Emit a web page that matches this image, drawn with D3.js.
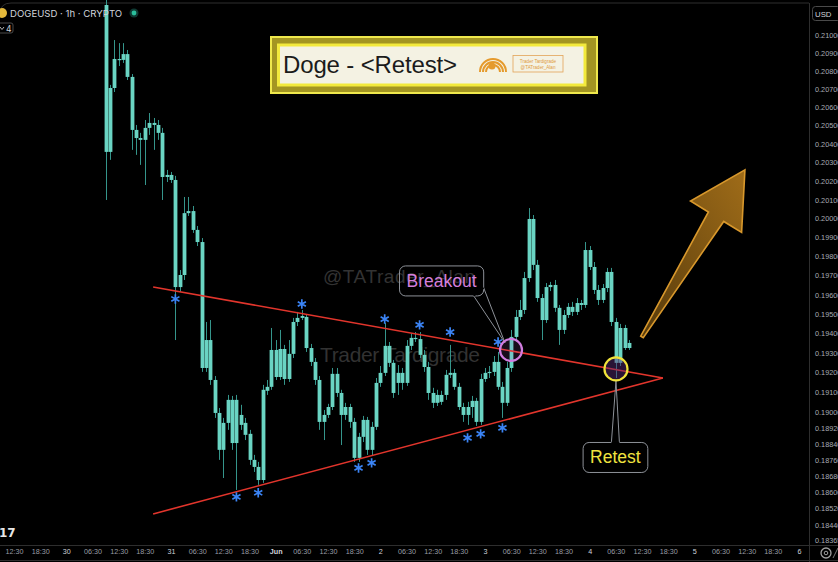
<!DOCTYPE html>
<html><head><meta charset="utf-8">
<script src="https://cdn.jsdelivr.net/npm/d3@7"></script>
<style>html,body{margin:0;padding:0;background:#000;overflow:hidden}svg{display:block}</style>
</head><body><svg id="c" width="838" height="562"></svg>
<script>
// ---------- DATA ----------
const symbolTitle = "DOGEUSD · 1h · CRYPTO";
const chartTitle = "Doge - <Retest>";
const firstCandle = "2025-05-30 09:30";   // hourly candles
const opens = [
0.21166,0.20357,0.20705,0.20865,0.20860,0.20892,0.20766,0.20476,0.20432,0.20422,
0.20487,0.20514,0.20503,0.20460,0.20222,0.20233,0.20206,0.19640,0.19703,0.20029,
0.20040,0.19940,0.19876,0.19223,0.19366,0.19162,0.18995,0.18810,0.18945,0.19061,
0.18844,0.18985,0.18945,0.18890,0.18760,0.18725,0.18660,0.19107,0.19127,0.19315,
0.19177,0.19320,0.19167,0.19295,0.19459,0.19480,0.19485,0.19325,0.19254,0.19162,
0.18950,0.18985,0.19025,0.19193,0.19096,0.18985,0.19025,0.18950,0.18770,0.18875,
0.18960,0.18810,0.18925,0.19147,0.19198,0.19336,0.19249,0.19147,0.19198,0.19147,
0.19336,0.19377,0.19371,0.19290,0.19228,0.19096,0.19046,0.19086,0.19086,0.19188,
0.19198,0.19127,0.19025,0.18985,0.19025,0.19056,0.18950,0.19167,0.19198,0.19203,
0.19254,0.19127,0.19046,0.19223,0.19382,0.19485,0.19521,0.19687,0.19998,0.19756,
0.19583,0.19469,0.19640,0.19651,0.19532,0.19418,0.19495,0.19537,0.19511,0.19557,
0.19547,0.19834,0.19745,0.19625,0.19573,0.19635,0.19719,0.19459,0.19249,0.19428,0.19325];
const highs = [
0.21194,0.20722,0.20970,0.20953,0.20953,0.20915,0.20782,0.20503,0.20460,0.20530,
0.20568,0.20541,0.20530,0.20487,0.20260,0.20249,0.20228,0.19729,0.20115,0.20115,
0.20067,0.19961,0.19897,0.19459,0.19469,0.19182,0.19020,0.18970,0.19086,0.19081,
0.19086,0.19036,0.18970,0.18910,0.18785,0.18750,0.19137,0.19162,0.19428,0.19366,
0.19418,0.19341,0.19366,0.19480,0.19511,0.19521,0.19500,0.19346,0.19274,0.19182,
0.19010,0.19041,0.19223,0.19223,0.19112,0.19046,0.19041,0.18970,0.18895,0.18980,
0.18975,0.18950,0.19172,0.19233,0.19454,0.19356,0.19264,0.19238,0.19223,0.19366,
0.19402,0.19407,0.19407,0.19315,0.19254,0.19122,0.19112,0.19107,0.19213,0.19341,
0.19218,0.19147,0.19046,0.19051,0.19081,0.19071,0.19193,0.19223,0.19233,0.19284,
0.19305,0.19152,0.19254,0.19418,0.19521,0.19573,0.19719,0.20056,0.20019,0.19782,
0.19604,0.19661,0.19667,0.19677,0.19547,0.19521,0.19557,0.19563,0.19583,0.19573,
0.19876,0.19855,0.19771,0.19651,0.19656,0.19740,0.19740,0.19480,0.19449,0.19444,0.19366];
const lows = [
0.20099,0.20314,0.20683,0.20826,0.20843,0.20749,0.20368,0.20341,0.20287,0.20179,
0.20449,0.20368,0.20422,0.20099,0.20195,0.20190,0.19366,0.19614,0.19677,0.20014,
0.19924,0.19855,0.19203,0.19203,0.19137,0.18970,0.18760,0.18670,0.18910,0.18810,
0.18611,0.18910,0.18859,0.18735,0.18700,0.18636,0.18646,0.19086,0.19112,0.19162,
0.19162,0.19137,0.19152,0.19274,0.19438,0.19469,0.19305,0.19233,0.19137,0.18910,
0.18859,0.18970,0.19010,0.19076,0.18834,0.18960,0.18920,0.18750,0.18750,0.18849,
0.18785,0.18780,0.18910,0.19127,0.19182,0.19228,0.19071,0.19086,0.19112,0.19132,
0.19315,0.19356,0.19274,0.19203,0.19061,0.19020,0.19030,0.19036,0.19061,0.19172,
0.19112,0.19010,0.18950,0.18935,0.18970,0.18930,0.18935,0.19152,0.19172,0.19182,
0.19112,0.18970,0.19030,0.19203,0.19366,0.19469,0.19500,0.19667,0.19729,0.19563,
0.19366,0.19454,0.19619,0.19511,0.19341,0.19397,0.19480,0.19490,0.19495,0.19521,
0.19532,0.19729,0.19604,0.19547,0.19557,0.19614,0.19438,0.19172,0.19233,0.19315,0.19315];
const closes = [
0.20357,0.20705,0.20865,0.20860,0.20892,0.20766,0.20476,0.20432,0.20422,0.20487,
0.20514,0.20503,0.20460,0.20222,0.20233,0.20206,0.19640,0.19703,0.20029,0.20040,
0.19940,0.19876,0.19223,0.19366,0.19162,0.18995,0.18810,0.18945,0.19061,0.18844,
0.19061,0.18935,0.18885,0.18760,0.18725,0.18660,0.19112,0.19127,0.19315,0.19177,
0.19320,0.19167,0.19295,0.19459,0.19480,0.19490,0.19325,0.19254,0.19162,0.18950,
0.18985,0.19025,0.19193,0.19096,0.18985,0.19025,0.18950,0.18770,0.18875,0.18960,
0.18810,0.18925,0.19147,0.19198,0.19336,0.19249,0.19096,0.19198,0.19147,0.19336,
0.19377,0.19371,0.19290,0.19228,0.19096,0.19046,0.19086,0.19051,0.19188,0.19198,
0.19127,0.19025,0.18985,0.19025,0.19056,0.18950,0.19167,0.19198,0.19203,0.19254,
0.19127,0.19046,0.19223,0.19382,0.19485,0.19521,0.19687,0.19998,0.19756,0.19583,
0.19469,0.19640,0.19651,0.19532,0.19418,0.19495,0.19537,0.19511,0.19557,0.19547,
0.19834,0.19745,0.19625,0.19573,0.19635,0.19719,0.19459,0.19249,0.19428,0.19325,0.19351];

// time axis: a label every 6 hours
const axisStart = "2025-05-29 12:30";
const axisEnd   = "2025-06-06 00:30";
const timeTickLabels = ["12:30","18:30","30","06:30","12:30","18:30","31","06:30","12:30","18:30",
 "Jun","06:30","12:30","18:30","2","06:30","12:30","18:30","3","06:30","12:30","18:30",
 "4","06:30","12:30","18:30","5","06:30","12:30","18:30","6"];
// price axis (log)
const priceDomain = [0.18312, 0.21194];
const priceTicks = [0.21,0.209,0.208,0.207,0.206,0.205,0.204,0.203,0.202,0.201,0.200,
 0.199,0.198,0.197,0.196,0.195,0.194,0.193,0.192,0.191,0.190,
 0.1892,0.1884,0.1876,0.1868,0.1860,0.1852,0.1844,0.18365];

// drawings (time, price)
const upperTrend = [["2025-05-30 20:24",0.19640],["2025-06-04 17:18",0.19172]];
const lowerTrend = [["2025-05-30 20:24",0.18493],["2025-06-04 17:18",0.19172]];
const starCandles = [16,30,35,45,58,61,64,72,79,83,86,90,91];
const starPrices  = [0.19578,0.18577,0.18597,0.19552,0.18720,0.18745,0.19474,0.19444,0.19407,0.18870,0.18890,0.19356,0.18920];
const breakoutPoint = ["2025-06-03 06:28",0.19315];
const breakoutLabel = {text:"Breakout", t:"2025-06-02 14:32", p:0.19672, tip:["2025-06-03 05:06",0.19351]};
const retestPoint = ["2025-06-04 06:32",0.19218];
const retestLabel = {text:"Retest", t:"2025-06-04 06:24", p:0.18772, tip:["2025-06-04 06:32",0.19157]};
const arrowTail = ["2025-06-04 12:30",0.19382];
const arrowTip  = ["2025-06-05 12:06",0.20260];

// ---------- CHART ----------
const svg = d3.select("#c");
const W = 838, H = 562, axisX = 809, axisY = 545;
const parse = d3.timeParse("%Y-%m-%d %H:%M");
const x = d3.scaleTime().domain([parse(axisStart), parse(axisEnd)]).range([14, 799]);
const y = d3.scaleLog().domain(priceDomain).range([551, 0]);
const P = a => [x(parse(a[0])), y(a[1])];

svg.append("rect").attr("width",W).attr("height",H).attr("fill","#000");
const defs = svg.append("defs");
defs.append("clipPath").attr("id","clip").append("rect").attr("x",0).attr("y",0).attr("width",axisX).attr("height",axisY);
const grad = defs.append("linearGradient").attr("id","arrowGrad").attr("x1","0").attr("y1","1").attr("x2","1").attr("y2","0");
grad.append("stop").attr("offset","0%").attr("stop-color","#5a3d0c");
grad.append("stop").attr("offset","100%").attr("stop-color","#a8721a");

// frame
svg.append("path").attr("d",`M0,14 Q0,3 11,3 L${axisX},3`).attr("fill","none").attr("stroke","#2e2e2e");
svg.append("line").attr("x1",axisX+0.5).attr("x2",axisX+0.5).attr("y1",3).attr("y2",H).attr("stroke","#2e2e2e");
svg.append("line").attr("x1",0).attr("x2",W).attr("y1",axisY+0.5).attr("y2",axisY+0.5).attr("stroke","#2e2e2e");
svg.append("line").attr("x1",0).attr("x2",W).attr("y1",560.5).attr("y2",560.5).attr("stroke","#2e2e2e");

// watermarks
svg.append("text").attr("x",323).attr("y",283).text("@TATrader_Alan")
  .attr("font-family","Liberation Sans, Arial, sans-serif").attr("font-size",19).attr("fill","#333333")
  .attr("textLength",152);
svg.append("text").attr("x",320).attr("y",362).text("Trader Tardigrade")
  .attr("font-family","Liberation Sans, Arial, sans-serif").attr("font-size",21).attr("fill","#323232")
  .attr("textLength",160);

// candles
const t0 = parse(firstCandle);
const candles = opens.map((o,i)=>({t:d3.timeHour.offset(t0,i),o,h:highs[i],l:lows[i],c:closes[i]}));
const plot = svg.append("g").attr("clip-path","url(#clip)");
plot.selectAll("line.wick").data(candles).join("line").attr("class","wick")
  .attr("x1",d=>Math.round(x(d.t))+0.5).attr("x2",d=>Math.round(x(d.t))+0.5)
  .attr("y1",d=>y(d.h)).attr("y2",d=>y(d.l)).attr("stroke","#35958b").attr("stroke-width",1);
plot.selectAll("rect.body").data(candles).join("rect").attr("class","body")
  .attr("x",d=>Math.round(x(d.t))+0.5-1.9).attr("width",3.8)
  .attr("y",d=>y(Math.max(d.o,d.c)))
  .attr("height",d=>Math.max(1.2,Math.abs(y(d.o)-y(d.c))))
  .attr("fill","#6ad4c3");

// trendlines
const line = d3.line().x(d=>P(d)[0]).y(d=>P(d)[1]);
[upperTrend, lowerTrend].forEach(tl=>{
  plot.append("path").attr("d",line(tl)).attr("stroke","#e2352c").attr("stroke-width",1.6).attr("fill","none");
});

// stars
const star = d3.symbol(d3.symbolAsterisk, 62);
plot.selectAll("path.star").data(starCandles).join("path").attr("class","star")
  .attr("d",star)
  .attr("transform",(d,i)=>`translate(${x(candles[d].t)},${y(starPrices[i])})`)
  .attr("fill","none").attr("stroke","#3b84f5").attr("stroke-width",1.7);

// arrow
{
  const T = P(arrowTail), Q = P(arrowTip);
  const dx = Q[0]-T[0], dy = Q[1]-T[1], L = Math.hypot(dx,dy);
  const u = [dx/L, dy/L], n = [-u[1], u[0]];
  const headLen = 55, headHalf = 30, neckHalf = 9, tailHalf = 1.5;
  const B = [Q[0]-u[0]*headLen, Q[1]-u[1]*headLen];
  const pt = (p,k)=>[p[0]+n[0]*k, p[1]+n[1]*k];
  const pts = [pt(T,-tailHalf), pt(B,-neckHalf), pt(B,-headHalf), Q, pt(B,headHalf), pt(B,neckHalf), pt(T,tailHalf)];
  svg.append("path").attr("d","M"+pts.map(p=>p.join(",")).join("L")+"Z")
    .attr("fill","url(#arrowGrad)").attr("fill-opacity",0.95).attr("stroke","#d8982c").attr("stroke-width",1.6)
    .attr("stroke-linejoin","miter");
}

// callouts
function callout(lbl, color, tailFrom){
  const c = P([lbl.t,lbl.p]);
  const g = svg.append("g");
  const txt = g.append("text").attr("x",c[0]).attr("y",c[1]+6).attr("text-anchor","middle")
    .attr("font-family","Liberation Sans, Arial, sans-serif").attr("font-size",17.5).attr("fill",color).text(lbl.text);
  const bb = txt.node().getBBox();
  const bx = bb.x-7, by = c[1]-15, bw = bb.width+14, bh = 30;
  const tip = P(lbl.tip);
  let base;
  if (tailFrom==="br") base = [[bx+bw-10, by+bh],[bx+bw, by+bh-8]];
  else base = [[c[0]-4, by],[c[0]+4, by]];
  g.insert("path","text").attr("d",`M${base[0]}L${tip}L${base[1]}`).attr("fill","none").attr("stroke","#8d9198").attr("stroke-width",1);
  g.insert("rect","path").attr("x",bx).attr("y",by).attr("width",bw).attr("height",bh).attr("rx",6)
    .attr("fill","none").attr("stroke","#8d9198").attr("stroke-width",1);
  g.insert("path","text").attr("d",`M${base[0]}L${base[1]}`).attr("stroke","#000").attr("stroke-width",1.5);
}
callout(breakoutLabel, "#d47fdc", "br");
callout(retestLabel, "#f0e33f", "top");

// circles
{
  const b = P(breakoutPoint);
  svg.append("circle").attr("cx",b[0]).attr("cy",b[1]).attr("r",11)
    .attr("fill","rgba(200,110,220,0.12)").attr("stroke","#d27de0").attr("stroke-width",2.2);
  const r = P(retestPoint);
  svg.append("circle").attr("cx",r[0]).attr("cy",r[1]).attr("r",11.5)
    .attr("fill","rgba(90,45,120,0.45)").attr("stroke","#f0e33a").attr("stroke-width",2.2);
}

// title box
{
  const g = svg.append("g");
  g.append("rect").attr("x",271).attr("y",37).attr("width",326).attr("height",56)
    .attr("fill","#a39522").attr("stroke","#efe84c").attr("stroke-width",2);
  g.append("rect").attr("x",278.5).attr("y",45).attr("width",306.5).attr("height",40)
    .attr("fill","#f4f2e3").attr("stroke","#f3ea3c").attr("stroke-width",3);
  g.append("text").attr("x",283).attr("y",73).text(chartTitle)
    .attr("font-family","Liberation Sans, Arial, sans-serif").attr("font-size",24).attr("fill","#1b1b1b")
    .attr("textLength",174);
  // logo
  const lg = g.append("g").attr("transform","translate(493,72)").attr("fill","none").attr("stroke","#e59a2c");
  [13,10,7].forEach((r,i)=>lg.append("path").attr("d",`M${-r},0 A${r},${r} 0 0 1 ${r},0`).attr("stroke-width",2));
  lg.append("circle").attr("cx",-1).attr("cy",-6).attr("r",3.5).attr("fill","#e59a2c").attr("stroke","none");
  g.append("rect").attr("x",513).attr("y",55.5).attr("width",50).attr("height",16.5)
    .attr("fill","none").attr("stroke","#e3a458").attr("stroke-width",0.8);
  g.append("text").attr("x",538).attr("y",62.5).attr("text-anchor","middle").text("Trader Tardigrade")
    .attr("font-family","Liberation Sans, Arial, sans-serif").attr("font-size",4.6).attr("fill","#e09a40");
  g.append("text").attr("x",538).attr("y",68.5).attr("text-anchor","middle").text("@TATrader_Alan")
    .attr("font-family","Liberation Sans, Arial, sans-serif").attr("font-size",4.6).attr("fill","#e09a40");
}

// header
svg.append("circle").attr("cx",2).attr("cy",13).attr("r",5).attr("fill","#e4b93a");
svg.append("text").attr("x",10).attr("y",17).text(symbolTitle)
  .attr("font-family","Inter, Liberation Sans, sans-serif").attr("font-size",9.6).attr("fill","#d1d4dc");
svg.append("circle").attr("cx",134).attr("cy",13).attr("r",4.5).attr("fill","#0f3a33");
svg.append("circle").attr("cx",134).attr("cy",13).attr("r",2.4).attr("fill","#2bbf9c");
svg.append("rect").attr("x",-4).attr("y",23).attr("width",17).attr("height",10).attr("rx",2)
  .attr("fill","none").attr("stroke","#4a4a4a");
svg.append("path").attr("d","M0,27 L2,29.5 L4,27").attr("fill","none").attr("stroke","#c8c8c8").attr("stroke-width",0.9);
svg.append("text").attr("x",6).attr("y",31.5).text("4").attr("font-family","Inter, sans-serif")
  .attr("font-size",8.5).attr("fill","#d1d4dc");

// price axis
const yAxis = d3.axisRight(y).tickValues(priceTicks).tickFormat(d3.format(".5f")).tickSize(0).tickPadding(6);
const ya = svg.append("g").attr("transform",`translate(${axisX},0)`).call(yAxis);
ya.select(".domain").remove();
ya.selectAll("text").attr("font-family","Liberation Sans, Arial, sans-serif").attr("font-size",7.3).attr("fill","#a9acb4");
svg.append("rect").attr("x",812.5).attr("y",6.5).attr("width",28).attr("height",14).attr("rx",3)
  .attr("fill","#000").attr("stroke","#4a4a4a");
svg.append("text").attr("x",815).attr("y",16.5).text("USD").attr("font-family","Liberation Sans, Arial, sans-serif")
  .attr("font-size",7.8).attr("fill","#d1d4dc");

// time axis
const tickTimes = timeTickLabels.map((_,i)=>d3.timeHour.offset(parse(axisStart), 6*i));
const xAxis = d3.axisBottom(x).tickValues(tickTimes).tickFormat((d,i)=>timeTickLabels[i]).tickSize(0).tickPadding(4);
const xa = svg.append("g").attr("transform",`translate(0,${axisY})`).call(xAxis);
xa.select(".domain").remove();
xa.selectAll("text").attr("font-family","Liberation Sans, Arial, sans-serif").attr("font-size",7.2)
  .attr("fill",(d,i)=>timeTickLabels[i].includes(":")?"#9a9da5":"#d1d4dc")
  .attr("font-weight",(d,i)=>timeTickLabels[i]==="Jun"?"bold":"normal");
svg.append("rect").attr("x",axisX+1).attr("y",axisY+1).attr("width",W-axisX).attr("height",14).attr("fill","#000");
svg.append("circle").attr("cx",826).attr("cy",553).attr("r",5).attr("fill","none").attr("stroke","#a0a0a0").attr("stroke-width",1.3);
svg.append("circle").attr("cx",826).attr("cy",553).attr("r",1.8).attr("fill","none").attr("stroke","#a0a0a0").attr("stroke-width",1);
svg.append("line").attr("x1",833).attr("y1",558).attr("x2",838).attr("y2",548).attr("stroke","#777");

// TV logo
svg.append("text").attr("x",-1).attr("y",537).text("17").attr("font-family","DejaVu Sans, sans-serif")
  .attr("font-weight","bold").attr("font-size",12).attr("fill","#e8e8e8");
</script></body></html>
